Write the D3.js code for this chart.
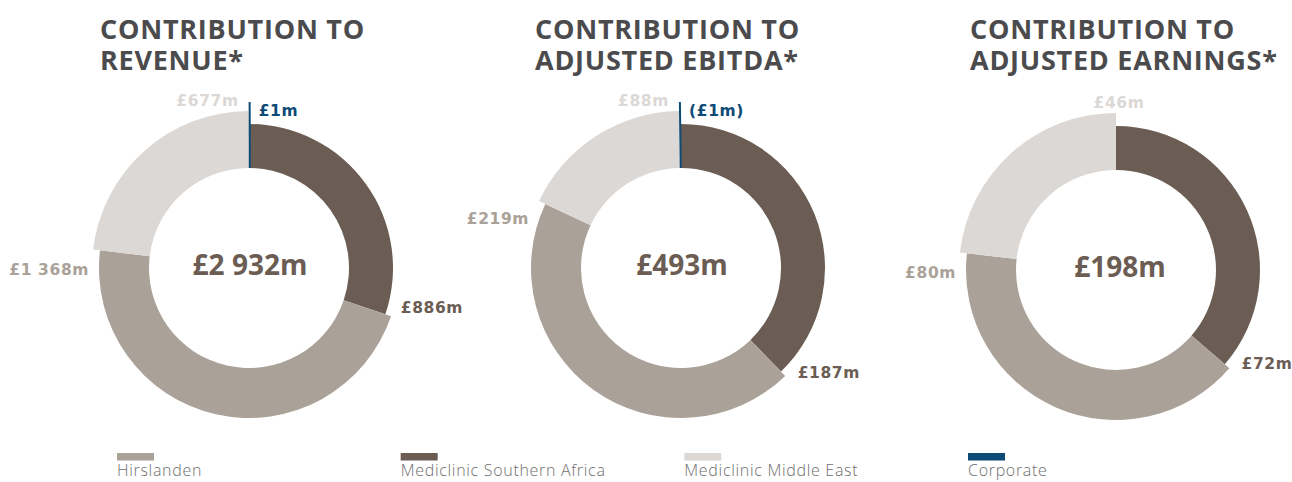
<!DOCTYPE html>
<html>
<head>
<meta charset="utf-8">
<script src="https://cdn.jsdelivr.net/npm/d3@7"></script>
<style>
  html, body { margin: 0; padding: 0; background: #ffffff; }
  svg { display: block; }
  text { font-family: "Open Sans", "Liberation Sans", sans-serif; }
  .val { font-family: "DejaVu Sans", "Open Sans", sans-serif; }
</style>
</head>
<body>
<svg id="chart" width="1292" height="482"></svg>
<script>
// Segment contributions (£m) per measure: revenue, adjusted EBITDA, adjusted earnings
const measures = ["Revenue", "Adjusted EBITDA", "Adjusted earnings"];
const titleLines = [
  ["CONTRIBUTION TO", "REVENUE*"],
  ["CONTRIBUTION TO", "ADJUSTED EBITDA*"],
  ["CONTRIBUTION TO", "ADJUSTED EARNINGS*"]
];
const totals = [2932, 493, 198];
const southernAfrica = [886, 187, 72];
const hirslanden = [1368, 219, 80];
const middleEast = [677, 88, 46];
const corporate = [1, -1, null];

const legendNames = ["Hirslanden", "Mediclinic Southern Africa", "Mediclinic Middle East", "Corporate"];

// Styling
const colour = {
  sa: "#6b5d53",
  hirs: "#aaa198",
  me: "#dbd8d5",
  corp: "#0d4a76"
};
const legendColours = [colour.hirs, colour.sa, colour.me, colour.corp];
const innerR = 100;
const outerR = { sa: 144, hirs: 150, me: 157, corp: 166 };

const svg = d3.select("#chart");
const layout = [
  { cx: 249, cy: 268, titleX: 100 },
  { cx: 681, cy: 268, titleX: 535 },
  { cx: 1116, cy: 270, titleX: 970 }
];

const fmt = v => {
  const s = "£" + d3.format(",")(Math.abs(v)).replace(/,/g, " ") + "m";
  return v < 0 ? "(" + s + ")" : s;
};

const pie = d3.pie().sort(null).value(d => Math.abs(d.value));
const deg = Math.PI / 180;
const polar = (a, r) => [Math.sin(a) * r, -Math.cos(a) * r];

measures.forEach((m, i) => {
  const L = layout[i];

  // title
  const title = svg.append("text")
    .attr("x", L.titleX)
    .attr("y", 39)
    .attr("fill", "#4b4b4d")
    .attr("font-weight", 700)
    .attr("font-size", 27)
    .attr("letter-spacing", 0.75);
  titleLines[i].forEach((line, j) => {
    title.append("tspan").attr("x", L.titleX).attr("y", 39 + j * 31).text(line);
  });

  const segs = [
    { key: "sa", value: southernAfrica[i] },
    { key: "hirs", value: hirslanden[i] },
    { key: "me", value: middleEast[i] }
  ];
  if (corporate[i] !== null) segs.push({ key: "corp", value: corporate[i] });

  const arcs = pie(segs);
  const g = svg.append("g").attr("transform", `translate(${L.cx},${L.cy})`);

  // ring segments, each with its own outer radius
  g.selectAll("path.seg")
    .data(arcs.filter(a => a.data.key !== "corp"))
    .join("path")
    .attr("class", "seg")
    .attr("fill", a => colour[a.data.key])
    .attr("d", a => d3.arc().innerRadius(innerR).outerRadius(outerR[a.data.key])(a));

  // corporate shown as a single radial stroke
  const corpArc = arcs.find(a => a.data.key === "corp");
  if (corpArc) {
    const a = corpArc.startAngle;
    const p0 = polar(a, innerR), p1 = polar(a, outerR.corp);
    g.append("line")
      .attr("x1", p0[0] + 1).attr("y1", p0[1])
      .attr("x2", p1[0] + 1).attr("y2", p1[1])
      .attr("stroke", colour.corp)
      .attr("stroke-width", 2);
  }

  // centre total
  g.append("text")
    .attr("x", i === 2 ? 4 : 1)
    .attr("y", 7)
    .attr("text-anchor", "middle")
    .attr("fill", colour.sa)
    .attr("font-weight", 700)
    .attr("font-size", 28)
    .text(fmt(totals[i]));

  // value labels
  arcs.forEach(a => {
    const k = a.data.key;
    const t = g.append("text")
      .attr("class", "val")
      .attr("fill", colour[k])
      .attr("font-weight", 700)
      .attr("font-size", 15.5)
      .attr("letter-spacing", 0.6)
      .text(fmt(a.data.value));
    if (k === "sa") {
      const p = polar(a.endAngle - 4 * deg, 157);
      t.attr("x", p[0]).attr("y", p[1] + 5).attr("text-anchor", "start");
    } else if (k === "hirs") {
      const p = polar(a.endAngle - 7 * deg, 160);
      t.attr("x", p[0]).attr("y", p[1] + 6).attr("text-anchor", "end");
    } else if (k === "me") {
      const p = polar(a.endAngle, 162);
      if (corpArc) {
        t.attr("x", p[0] - 10).attr("y", p[1]).attr("text-anchor", "end");
      } else {
        t.attr("x", p[0] + 3).attr("y", p[1]).attr("text-anchor", "middle");
      }
    } else {
      const p = polar(a.startAngle, 152);
      t.attr("x", p[0] + 10).attr("y", p[1]).attr("text-anchor", "start");
    }
  });
});

// legend
const legendX = d3.scalePoint().domain(legendNames).range([117, 968]);
const lg = svg.selectAll("g.legend")
  .data(legendNames)
  .join("g")
  .attr("class", "legend")
  .attr("transform", d => `translate(${legendX(d)},453)`);
lg.append("rect")
  .attr("width", 37).attr("height", 7.5)
  .attr("fill", (d, i) => legendColours[i]);
lg.append("text")
  .attr("x", 0).attr("y", 23)
  .attr("fill", "#6e6e6e")
  .attr("font-size", 16)
  .attr("font-weight", 300)
  .attr("letter-spacing", 0.7)
  .text(d => d);
</script>
</body>
</html>
